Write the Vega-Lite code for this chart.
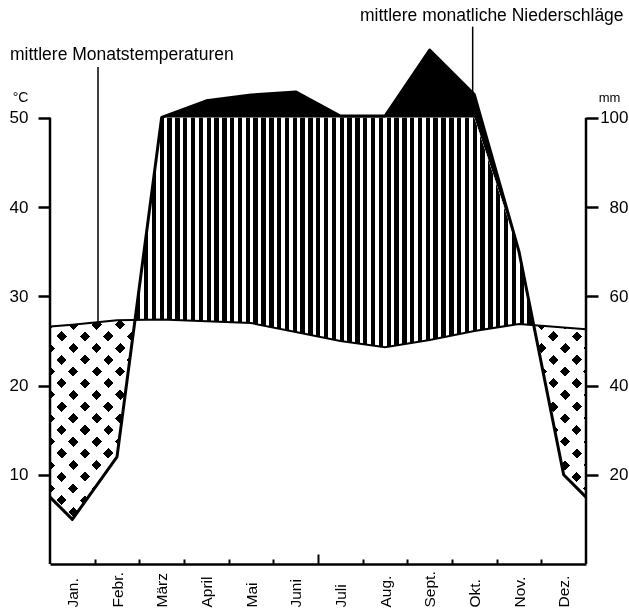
{
"$schema": "https://vega.github.io/schema/vega-lite/v6.json",
"width": 536, "height": 564,
"autosize": {"type": "none"},
"padding": {"left": 50, "top": 0, "right": 43, "bottom": 47},
"background": "white",
"config": {"view": {"stroke": null, "fill": "white"}, "font": "Liberation Sans",
  "axis": {"grid": false, "labelColor": "black", "tickColor": "black", "domainColor": "black", "titleColor": "black", "labelFont": "Liberation Sans", "titleFont": "Liberation Sans"}},
"data": {"values": [
  {"m": 0, "T": 26.6, "P": 15},
  {"m": 0.5, "T": 26.8, "P": 10},
  {"m": 1.5, "T": 27.3, "P": 24},
  {"m": 2.5, "T": 27.4, "P": 101},
  {"m": 3.5, "T": 27.2, "P": 138},
  {"m": 4.5, "T": 27.0, "P": 151},
  {"m": 5.5, "T": 26.0, "P": 158},
  {"m": 6.5, "T": 25.0, "P": 104},
  {"m": 7.5, "T": 24.3, "P": 104},
  {"m": 8.5, "T": 25.1, "P": 252},
  {"m": 9.5, "T": 26.1, "P": 152},
  {"m": 10.5, "T": 26.9, "P": 70},
  {"m": 11.5, "T": 26.5, "P": 20},
  {"m": 12, "T": 26.3, "P": 15}
]},
"resolve": {"scale": {"y": "independent"}, "axis": {"x": "independent", "y": "independent"}},
"layer": [
  {"mark": {"type": "area", "fill": "black"},
   "encoding": {
     "x": {"field": "m", "type": "quantitative", "scale": {"domain": [0, 12], "nice": false, "zero": false},
       "axis": {"orient": "bottom", "values": [1,2,3,4,5,6,7,8,9,10,11], "labels": false, "title": null, "domain": true, "domainWidth": 2.5, "ticks": true, "tickWidth": 2, "tickSize": {"condition": {"test": "datum.value == 6", "value": -10}, "value": -5}, "zindex": 1}},
     "y": {"field": "P", "type": "quantitative", "scale": {"domain": [0, 100, 364], "range": [564, 117.8, 0], "nice": false, "zero": false}, "axis": null}}},
  {"mark": {"type": "area", "fill": "white"},
   "encoding": {
     "x": {"field": "m", "type": "quantitative", "scale": {"domain": [0, 12], "nice": false, "zero": false}, "axis": null},
     "y": {"field": "P", "type": "quantitative", "scale": {"domain": [0, 100], "range": [564, 117.8], "clamp": true, "nice": false}, "axis": null}}},
  {"mark": {"type": "area", "fill": "white", "blend": "difference"},
   "encoding": {
     "x": {"field": "m", "type": "quantitative", "scale": {"domain": [0, 12], "nice": false, "zero": false}, "axis": null},
     "y": {"field": "T", "type": "quantitative", "scale": {"domain": [0, 63.2], "range": [564, 0], "nice": false}, "axis": null}}},
  {"mark": {"type": "area", "fill": "white", "blend": "difference"},
   "encoding": {
     "x": {"field": "m", "type": "quantitative", "scale": {"domain": [0, 12], "nice": false, "zero": false}, "axis": null},
     "y": {"field": "P", "type": "quantitative", "scale": {"domain": [0, 100], "range": [564, 117.8], "clamp": true, "nice": false}, "axis": null}}},
  {"mark": {"type": "area", "blend": "lighten", "fill": {"gradient": "linear", "x1": 0, "y1": 0, "x2": 1, "y2": 0, "stops": [
{"offset":0.1314,"color":"#000"},{"offset":0.1396,"color":"#000"},{"offset":0.1396,"color":"#fff"},{"offset":0.146,"color":"#fff"},
{"offset":0.146,"color":"#000"},{"offset":0.1542,"color":"#000"},{"offset":0.1542,"color":"#fff"},{"offset":0.1606,"color":"#fff"},
{"offset":0.1606,"color":"#000"},{"offset":0.1688,"color":"#000"},{"offset":0.1688,"color":"#fff"},{"offset":0.1752,"color":"#fff"},
{"offset":0.1752,"color":"#000"},{"offset":0.1834,"color":"#000"},{"offset":0.1834,"color":"#fff"},{"offset":0.1898,"color":"#fff"},
{"offset":0.1898,"color":"#000"},{"offset":0.198,"color":"#000"},{"offset":0.198,"color":"#fff"},{"offset":0.2044,"color":"#fff"},
{"offset":0.2044,"color":"#000"},{"offset":0.2126,"color":"#000"},{"offset":0.2126,"color":"#fff"},{"offset":0.219,"color":"#fff"},
{"offset":0.219,"color":"#000"},{"offset":0.2272,"color":"#000"},{"offset":0.2272,"color":"#fff"},{"offset":0.2336,"color":"#fff"},
{"offset":0.2336,"color":"#000"},{"offset":0.2418,"color":"#000"},{"offset":0.2418,"color":"#fff"},{"offset":0.2482,"color":"#fff"},
{"offset":0.2482,"color":"#000"},{"offset":0.2564,"color":"#000"},{"offset":0.2564,"color":"#fff"},{"offset":0.2628,"color":"#fff"},
{"offset":0.2628,"color":"#000"},{"offset":0.271,"color":"#000"},{"offset":0.271,"color":"#fff"},{"offset":0.2774,"color":"#fff"},
{"offset":0.2774,"color":"#000"},{"offset":0.2856,"color":"#000"},{"offset":0.2856,"color":"#fff"},{"offset":0.292,"color":"#fff"},
{"offset":0.292,"color":"#000"},{"offset":0.3002,"color":"#000"},{"offset":0.3002,"color":"#fff"},{"offset":0.3066,"color":"#fff"},
{"offset":0.3066,"color":"#000"},{"offset":0.3148,"color":"#000"},{"offset":0.3148,"color":"#fff"},{"offset":0.3212,"color":"#fff"},
{"offset":0.3212,"color":"#000"},{"offset":0.3294,"color":"#000"},{"offset":0.3294,"color":"#fff"},{"offset":0.3358,"color":"#fff"},
{"offset":0.3358,"color":"#000"},{"offset":0.344,"color":"#000"},{"offset":0.344,"color":"#fff"},{"offset":0.3504,"color":"#fff"},
{"offset":0.3504,"color":"#000"},{"offset":0.3586,"color":"#000"},{"offset":0.3586,"color":"#fff"},{"offset":0.365,"color":"#fff"},
{"offset":0.365,"color":"#000"},{"offset":0.3732,"color":"#000"},{"offset":0.3732,"color":"#fff"},{"offset":0.3796,"color":"#fff"},
{"offset":0.3796,"color":"#000"},{"offset":0.3878,"color":"#000"},{"offset":0.3878,"color":"#fff"},{"offset":0.3942,"color":"#fff"},
{"offset":0.3942,"color":"#000"},{"offset":0.4024,"color":"#000"},{"offset":0.4024,"color":"#fff"},{"offset":0.4088,"color":"#fff"},
{"offset":0.4088,"color":"#000"},{"offset":0.417,"color":"#000"},{"offset":0.417,"color":"#fff"},{"offset":0.4234,"color":"#fff"},
{"offset":0.4234,"color":"#000"},{"offset":0.4316,"color":"#000"},{"offset":0.4316,"color":"#fff"},{"offset":0.438,"color":"#fff"},
{"offset":0.438,"color":"#000"},{"offset":0.4462,"color":"#000"},{"offset":0.4462,"color":"#fff"},{"offset":0.4526,"color":"#fff"},
{"offset":0.4526,"color":"#000"},{"offset":0.4608,"color":"#000"},{"offset":0.4608,"color":"#fff"},{"offset":0.4672,"color":"#fff"},
{"offset":0.4672,"color":"#000"},{"offset":0.4754,"color":"#000"},{"offset":0.4754,"color":"#fff"},{"offset":0.4818,"color":"#fff"},
{"offset":0.4818,"color":"#000"},{"offset":0.49,"color":"#000"},{"offset":0.49,"color":"#fff"},{"offset":0.4964,"color":"#fff"},
{"offset":0.4964,"color":"#000"},{"offset":0.5046,"color":"#000"},{"offset":0.5046,"color":"#fff"},{"offset":0.511,"color":"#fff"},
{"offset":0.511,"color":"#000"},{"offset":0.5192,"color":"#000"},{"offset":0.5192,"color":"#fff"},{"offset":0.5256,"color":"#fff"},
{"offset":0.5256,"color":"#000"},{"offset":0.5338,"color":"#000"},{"offset":0.5338,"color":"#fff"},{"offset":0.5402,"color":"#fff"},
{"offset":0.5402,"color":"#000"},{"offset":0.5484,"color":"#000"},{"offset":0.5484,"color":"#fff"},{"offset":0.5548,"color":"#fff"},
{"offset":0.5548,"color":"#000"},{"offset":0.563,"color":"#000"},{"offset":0.563,"color":"#fff"},{"offset":0.5694,"color":"#fff"},
{"offset":0.5694,"color":"#000"},{"offset":0.5776,"color":"#000"},{"offset":0.5776,"color":"#fff"},{"offset":0.584,"color":"#fff"},
{"offset":0.584,"color":"#000"},{"offset":0.5922,"color":"#000"},{"offset":0.5922,"color":"#fff"},{"offset":0.5986,"color":"#fff"},
{"offset":0.5986,"color":"#000"},{"offset":0.6068,"color":"#000"},{"offset":0.6068,"color":"#fff"},{"offset":0.6132,"color":"#fff"},
{"offset":0.6132,"color":"#000"},{"offset":0.6214,"color":"#000"},{"offset":0.6214,"color":"#fff"},{"offset":0.6278,"color":"#fff"},
{"offset":0.6278,"color":"#000"},{"offset":0.636,"color":"#000"},{"offset":0.636,"color":"#fff"},{"offset":0.6424,"color":"#fff"},
{"offset":0.6424,"color":"#000"},{"offset":0.6506,"color":"#000"},{"offset":0.6506,"color":"#fff"},{"offset":0.657,"color":"#fff"},
{"offset":0.657,"color":"#000"},{"offset":0.6652,"color":"#000"},{"offset":0.6652,"color":"#fff"},{"offset":0.6716,"color":"#fff"},
{"offset":0.6716,"color":"#000"},{"offset":0.6798,"color":"#000"},{"offset":0.6798,"color":"#fff"},{"offset":0.6862,"color":"#fff"},
{"offset":0.6862,"color":"#000"},{"offset":0.6944,"color":"#000"},{"offset":0.6944,"color":"#fff"},{"offset":0.7008,"color":"#fff"},
{"offset":0.7008,"color":"#000"},{"offset":0.709,"color":"#000"},{"offset":0.709,"color":"#fff"},{"offset":0.7154,"color":"#fff"},
{"offset":0.7154,"color":"#000"},{"offset":0.7236,"color":"#000"},{"offset":0.7236,"color":"#fff"},{"offset":0.73,"color":"#fff"},
{"offset":0.73,"color":"#000"},{"offset":0.7382,"color":"#000"},{"offset":0.7382,"color":"#fff"},{"offset":0.7446,"color":"#fff"},
{"offset":0.7446,"color":"#000"},{"offset":0.7528,"color":"#000"},{"offset":0.7528,"color":"#fff"},{"offset":0.7592,"color":"#fff"},
{"offset":0.7592,"color":"#000"},{"offset":0.7674,"color":"#000"},{"offset":0.7674,"color":"#fff"},{"offset":0.7738,"color":"#fff"},
{"offset":0.7738,"color":"#000"},{"offset":0.782,"color":"#000"},{"offset":0.782,"color":"#fff"},{"offset":0.7884,"color":"#fff"},
{"offset":0.7884,"color":"#000"},{"offset":0.7966,"color":"#000"},{"offset":0.7966,"color":"#fff"},{"offset":0.803,"color":"#fff"},
{"offset":0.803,"color":"#000"},{"offset":0.8112,"color":"#000"},{"offset":0.8112,"color":"#fff"},{"offset":0.8176,"color":"#fff"},
{"offset":0.8176,"color":"#000"},{"offset":0.8258,"color":"#000"},{"offset":0.8258,"color":"#fff"},{"offset":0.8322,"color":"#fff"},
{"offset":0.8322,"color":"#000"},{"offset":0.8404,"color":"#000"},{"offset":0.8404,"color":"#fff"},{"offset":0.8468,"color":"#fff"},
{"offset":0.8468,"color":"#000"},{"offset":0.855,"color":"#000"},{"offset":0.855,"color":"#fff"},{"offset":0.8614,"color":"#fff"},
{"offset":0.8614,"color":"#000"},{"offset":0.8696,"color":"#000"},{"offset":0.8696,"color":"#fff"},{"offset":0.876,"color":"#fff"},
{"offset":0.876,"color":"#000"},{"offset":0.8842,"color":"#000"},{"offset":0.8842,"color":"#fff"},{"offset":0.8906,"color":"#fff"},
{"offset":0.8906,"color":"#000"},{"offset":0.8988,"color":"#000"},{"offset":0.8988,"color":"#fff"},{"offset":0.9052,"color":"#fff"},
{"offset":0.9052,"color":"#000"},{"offset":0.9134,"color":"#000"},{"offset":0.9134,"color":"#fff"},{"offset":1,"color":"#fff"}
]}},
   "encoding": {
     "x": {"field": "m", "type": "quantitative", "scale": {"domain": [0, 12], "nice": false, "zero": false}, "axis": null},
     "y": {"field": "P", "type": "quantitative", "scale": {"domain": [0, 100], "range": [564, 117.8], "clamp": true, "nice": false}, "axis": null}}},
  {"mark": {"type": "area", "blend": "lighten", "fill": {"gradient": "linear", "x1": 0, "y1": 1, "x2": 1.2054, "y2": 0.4501, "stops": [
{"offset":0,"color":"#000"},{"offset":0.013,"color":"#000"},{"offset":0.013,"color":"#fff"},{"offset":0.03,"color":"#fff"},
{"offset":0.03,"color":"#000"},{"offset":0.043,"color":"#000"},{"offset":0.043,"color":"#fff"},{"offset":0.06,"color":"#fff"},
{"offset":0.06,"color":"#000"},{"offset":0.073,"color":"#000"},{"offset":0.073,"color":"#fff"},{"offset":0.09,"color":"#fff"},
{"offset":0.09,"color":"#000"},{"offset":0.103,"color":"#000"},{"offset":0.103,"color":"#fff"},{"offset":0.12,"color":"#fff"},
{"offset":0.12,"color":"#000"},{"offset":0.133,"color":"#000"},{"offset":0.133,"color":"#fff"},{"offset":0.15,"color":"#fff"},
{"offset":0.15,"color":"#000"},{"offset":0.163,"color":"#000"},{"offset":0.163,"color":"#fff"},{"offset":0.18,"color":"#fff"},
{"offset":0.18,"color":"#000"},{"offset":0.193,"color":"#000"},{"offset":0.193,"color":"#fff"},{"offset":0.21,"color":"#fff"},
{"offset":0.21,"color":"#000"},{"offset":0.223,"color":"#000"},{"offset":0.223,"color":"#fff"},{"offset":0.24,"color":"#fff"},
{"offset":0.24,"color":"#000"},{"offset":0.253,"color":"#000"},{"offset":0.253,"color":"#fff"},{"offset":0.27,"color":"#fff"},
{"offset":0.27,"color":"#000"},{"offset":0.283,"color":"#000"},{"offset":0.283,"color":"#fff"},{"offset":0.3,"color":"#fff"},
{"offset":0.3,"color":"#000"},{"offset":0.313,"color":"#000"},{"offset":0.313,"color":"#fff"},{"offset":0.33,"color":"#fff"},
{"offset":0.33,"color":"#000"},{"offset":0.343,"color":"#000"},{"offset":0.343,"color":"#fff"},{"offset":0.36,"color":"#fff"},
{"offset":0.36,"color":"#000"},{"offset":0.373,"color":"#000"},{"offset":0.373,"color":"#fff"},{"offset":0.39,"color":"#fff"},
{"offset":0.39,"color":"#000"},{"offset":0.403,"color":"#000"},{"offset":0.403,"color":"#fff"},{"offset":0.42,"color":"#fff"},
{"offset":0.42,"color":"#000"},{"offset":0.433,"color":"#000"},{"offset":0.433,"color":"#fff"},{"offset":0.45,"color":"#fff"},
{"offset":0.45,"color":"#000"},{"offset":0.463,"color":"#000"},{"offset":0.463,"color":"#fff"},{"offset":0.48,"color":"#fff"},
{"offset":0.48,"color":"#000"},{"offset":0.493,"color":"#000"},{"offset":0.493,"color":"#fff"},{"offset":0.51,"color":"#fff"},
{"offset":0.51,"color":"#000"},{"offset":0.523,"color":"#000"},{"offset":0.523,"color":"#fff"},{"offset":0.54,"color":"#fff"},
{"offset":0.54,"color":"#000"},{"offset":0.553,"color":"#000"},{"offset":0.553,"color":"#fff"},{"offset":0.57,"color":"#fff"},
{"offset":0.57,"color":"#000"},{"offset":0.583,"color":"#000"},{"offset":0.583,"color":"#fff"},{"offset":0.6,"color":"#fff"},
{"offset":0.6,"color":"#000"},{"offset":0.613,"color":"#000"},{"offset":0.613,"color":"#fff"},{"offset":0.63,"color":"#fff"},
{"offset":0.63,"color":"#000"},{"offset":0.643,"color":"#000"},{"offset":0.643,"color":"#fff"},{"offset":0.66,"color":"#fff"},
{"offset":0.66,"color":"#000"},{"offset":0.673,"color":"#000"},{"offset":0.673,"color":"#fff"},{"offset":0.69,"color":"#fff"},
{"offset":0.69,"color":"#000"},{"offset":0.703,"color":"#000"},{"offset":0.703,"color":"#fff"},{"offset":0.72,"color":"#fff"},
{"offset":0.72,"color":"#000"},{"offset":0.733,"color":"#000"},{"offset":0.733,"color":"#fff"},{"offset":0.75,"color":"#fff"},
{"offset":0.75,"color":"#000"},{"offset":0.763,"color":"#000"},{"offset":0.763,"color":"#fff"},{"offset":0.78,"color":"#fff"},
{"offset":0.78,"color":"#000"},{"offset":0.793,"color":"#000"},{"offset":0.793,"color":"#fff"},{"offset":0.81,"color":"#fff"},
{"offset":0.81,"color":"#000"},{"offset":0.823,"color":"#000"},{"offset":0.823,"color":"#fff"},{"offset":0.84,"color":"#fff"},
{"offset":0.84,"color":"#000"},{"offset":0.853,"color":"#000"},{"offset":0.853,"color":"#fff"},{"offset":0.87,"color":"#fff"},
{"offset":0.87,"color":"#000"},{"offset":0.883,"color":"#000"},{"offset":0.883,"color":"#fff"},{"offset":0.9,"color":"#fff"},
{"offset":0.9,"color":"#000"},{"offset":0.913,"color":"#000"},{"offset":0.913,"color":"#fff"},{"offset":0.93,"color":"#fff"},
{"offset":0.93,"color":"#000"},{"offset":0.943,"color":"#000"},{"offset":0.943,"color":"#fff"},{"offset":0.96,"color":"#fff"},
{"offset":0.96,"color":"#000"},{"offset":0.973,"color":"#000"},{"offset":0.973,"color":"#fff"},{"offset":0.99,"color":"#fff"},
{"offset":0.99,"color":"#000"},{"offset":1,"color":"#000"}
]}},
   "encoding": {
     "x": {"field": "m", "type": "quantitative", "scale": {"domain": [0, 12], "nice": false, "zero": false}, "axis": null},
     "y": {"field": "T", "type": "quantitative", "scale": {"domain": [0, 63.2], "range": [564, 0], "nice": false}, "axis": null}}},
  {"mark": {"type": "area", "blend": "lighten", "fill": {"gradient": "linear", "x1": 0, "y1": 0, "x2": 1.2054, "y2": 0.5499, "stops": [
{"offset":0,"color":"#000"},{"offset":0.013,"color":"#000"},{"offset":0.013,"color":"#fff"},{"offset":0.03,"color":"#fff"},
{"offset":0.03,"color":"#000"},{"offset":0.043,"color":"#000"},{"offset":0.043,"color":"#fff"},{"offset":0.06,"color":"#fff"},
{"offset":0.06,"color":"#000"},{"offset":0.073,"color":"#000"},{"offset":0.073,"color":"#fff"},{"offset":0.09,"color":"#fff"},
{"offset":0.09,"color":"#000"},{"offset":0.103,"color":"#000"},{"offset":0.103,"color":"#fff"},{"offset":0.12,"color":"#fff"},
{"offset":0.12,"color":"#000"},{"offset":0.133,"color":"#000"},{"offset":0.133,"color":"#fff"},{"offset":0.15,"color":"#fff"},
{"offset":0.15,"color":"#000"},{"offset":0.163,"color":"#000"},{"offset":0.163,"color":"#fff"},{"offset":0.18,"color":"#fff"},
{"offset":0.18,"color":"#000"},{"offset":0.193,"color":"#000"},{"offset":0.193,"color":"#fff"},{"offset":0.21,"color":"#fff"},
{"offset":0.21,"color":"#000"},{"offset":0.223,"color":"#000"},{"offset":0.223,"color":"#fff"},{"offset":0.24,"color":"#fff"},
{"offset":0.24,"color":"#000"},{"offset":0.253,"color":"#000"},{"offset":0.253,"color":"#fff"},{"offset":0.27,"color":"#fff"},
{"offset":0.27,"color":"#000"},{"offset":0.283,"color":"#000"},{"offset":0.283,"color":"#fff"},{"offset":0.3,"color":"#fff"},
{"offset":0.3,"color":"#000"},{"offset":0.313,"color":"#000"},{"offset":0.313,"color":"#fff"},{"offset":0.33,"color":"#fff"},
{"offset":0.33,"color":"#000"},{"offset":0.343,"color":"#000"},{"offset":0.343,"color":"#fff"},{"offset":0.36,"color":"#fff"},
{"offset":0.36,"color":"#000"},{"offset":0.373,"color":"#000"},{"offset":0.373,"color":"#fff"},{"offset":0.39,"color":"#fff"},
{"offset":0.39,"color":"#000"},{"offset":0.403,"color":"#000"},{"offset":0.403,"color":"#fff"},{"offset":0.42,"color":"#fff"},
{"offset":0.42,"color":"#000"},{"offset":0.433,"color":"#000"},{"offset":0.433,"color":"#fff"},{"offset":0.45,"color":"#fff"},
{"offset":0.45,"color":"#000"},{"offset":0.463,"color":"#000"},{"offset":0.463,"color":"#fff"},{"offset":0.48,"color":"#fff"},
{"offset":0.48,"color":"#000"},{"offset":0.493,"color":"#000"},{"offset":0.493,"color":"#fff"},{"offset":0.51,"color":"#fff"},
{"offset":0.51,"color":"#000"},{"offset":0.523,"color":"#000"},{"offset":0.523,"color":"#fff"},{"offset":0.54,"color":"#fff"},
{"offset":0.54,"color":"#000"},{"offset":0.553,"color":"#000"},{"offset":0.553,"color":"#fff"},{"offset":0.57,"color":"#fff"},
{"offset":0.57,"color":"#000"},{"offset":0.583,"color":"#000"},{"offset":0.583,"color":"#fff"},{"offset":0.6,"color":"#fff"},
{"offset":0.6,"color":"#000"},{"offset":0.613,"color":"#000"},{"offset":0.613,"color":"#fff"},{"offset":0.63,"color":"#fff"},
{"offset":0.63,"color":"#000"},{"offset":0.643,"color":"#000"},{"offset":0.643,"color":"#fff"},{"offset":0.66,"color":"#fff"},
{"offset":0.66,"color":"#000"},{"offset":0.673,"color":"#000"},{"offset":0.673,"color":"#fff"},{"offset":0.69,"color":"#fff"},
{"offset":0.69,"color":"#000"},{"offset":0.703,"color":"#000"},{"offset":0.703,"color":"#fff"},{"offset":0.72,"color":"#fff"},
{"offset":0.72,"color":"#000"},{"offset":0.733,"color":"#000"},{"offset":0.733,"color":"#fff"},{"offset":0.75,"color":"#fff"},
{"offset":0.75,"color":"#000"},{"offset":0.763,"color":"#000"},{"offset":0.763,"color":"#fff"},{"offset":0.78,"color":"#fff"},
{"offset":0.78,"color":"#000"},{"offset":0.793,"color":"#000"},{"offset":0.793,"color":"#fff"},{"offset":0.81,"color":"#fff"},
{"offset":0.81,"color":"#000"},{"offset":0.823,"color":"#000"},{"offset":0.823,"color":"#fff"},{"offset":0.84,"color":"#fff"},
{"offset":0.84,"color":"#000"},{"offset":0.853,"color":"#000"},{"offset":0.853,"color":"#fff"},{"offset":0.87,"color":"#fff"},
{"offset":0.87,"color":"#000"},{"offset":0.883,"color":"#000"},{"offset":0.883,"color":"#fff"},{"offset":0.9,"color":"#fff"},
{"offset":0.9,"color":"#000"},{"offset":0.913,"color":"#000"},{"offset":0.913,"color":"#fff"},{"offset":0.93,"color":"#fff"},
{"offset":0.93,"color":"#000"},{"offset":0.943,"color":"#000"},{"offset":0.943,"color":"#fff"},{"offset":0.96,"color":"#fff"},
{"offset":0.96,"color":"#000"},{"offset":0.973,"color":"#000"},{"offset":0.973,"color":"#fff"},{"offset":0.99,"color":"#fff"},
{"offset":0.99,"color":"#000"},{"offset":1,"color":"#000"}
]}},
   "encoding": {
     "x": {"field": "m", "type": "quantitative", "scale": {"domain": [0, 12], "nice": false, "zero": false}, "axis": null},
     "y": {"field": "T", "type": "quantitative", "scale": {"domain": [0, 63.2], "range": [564, 0], "nice": false}, "axis": null}}},
  {"mark": {"type": "line", "color": "black", "strokeWidth": 2},
   "encoding": {
     "x": {"field": "m", "type": "quantitative", "scale": {"domain": [0, 12], "nice": false, "zero": false},
       "axis": {"orient": "bottom", "values": [0.5,1.5,2.5,3.5,4.5,5.5,6.5,7.5,8.5,9.5,10.5,11.5], "domain": false, "ticks": false, "title": null,
         "labelExpr": "['Jan.','Febr.','März','April','Mai','Juni','Juli','Aug.','Sept.','Okt.','Nov.','Dez.'][floor(datum.value)]",
         "labelAngle": -90, "labelAlign": "left", "labelBaseline": "middle", "labelPadding": 43, "labelFontSize": 15.5, "labelOverlap": false, "labelFlush": false, "labelBound": false}},
     "y": {"field": "T", "type": "quantitative", "scale": {"domain": [0, 63.2], "range": [564, 0], "nice": false}, "axis": null}}},
  {"mark": {"type": "line", "color": "black", "strokeWidth": 3, "strokeJoin": "round"},
   "encoding": {
     "x": {"field": "m", "type": "quantitative", "scale": {"domain": [0, 12], "nice": false, "zero": false}, "axis": null},
     "y": {"field": "P", "type": "quantitative", "scale": {"domain": [0, 100, 364], "range": [564, 117.8, 0], "nice": false, "zero": false}, "axis": null}}},
  {"data": {"values": [{}]},
   "mark": {"type": "rule", "color": "black", "strokeWidth": 2.5},
   "encoding": {
     "x": {"datum": 0, "type": "quantitative", "scale": {"domain": [0, 12], "nice": false, "zero": false}, "axis": null},
     "y": {"datum": 0, "type": "quantitative", "scale": {"domain": [0, 63.2], "range": [564, 0], "nice": false},
       "axis": {"orient": "left", "values": [10,20,30,40,50], "domain": false, "ticks": true, "tickSize": 12, "tickWidth": 2.5, "labelFontSize": 17, "labelPadding": 10,
         "title": "°C", "titleAngle": 0, "titleX": -30, "titleY": 97, "titleAlign": "center", "titleBaseline": "middle", "titleFontSize": 14, "titleFontWeight": "normal", "zindex": 1}},
     "y2": {"datum": 50}}},
  {"data": {"values": [{}]},
   "mark": {"type": "rule", "color": "black", "strokeWidth": 2.5},
   "encoding": {
     "x": {"datum": 12, "type": "quantitative", "scale": {"domain": [0, 12], "nice": false, "zero": false}, "axis": null},
     "y": {"datum": 0, "type": "quantitative", "scale": {"domain": [0, 100, 364], "range": [564, 117.8, 0], "nice": false, "zero": false},
       "axis": {"orient": "right", "values": [20,40,60,80,100], "domain": false, "ticks": true, "tickSize": 12, "tickWidth": 2.5, "labelFontSize": 17, "labelPadding": 30, "labelAlign": "right",
         "title": "mm", "titleAngle": 0, "titleX": 23, "titleY": 97, "titleAlign": "center", "titleBaseline": "middle", "titleFontSize": 13, "titleFontWeight": "normal", "zindex": 1}},
     "y2": {"datum": 100}}},
  {"data": {"values": [{}]},
   "mark": {"type": "rule", "color": "black", "strokeWidth": 1.5},
   "encoding": {
     "x": {"datum": 1.0746, "type": "quantitative", "scale": {"domain": [0, 12], "nice": false, "zero": false}, "axis": null},
     "y": {"datum": 27.1, "type": "quantitative", "scale": {"domain": [0, 63.2], "range": [564, 0], "nice": false}, "axis": null},
     "y2": {"datum": 55.69}}},
  {"data": {"values": [{}]},
   "mark": {"type": "rule", "color": "black", "strokeWidth": 1.5},
   "encoding": {
     "x": {"datum": 9.463, "type": "quantitative", "scale": {"domain": [0, 12], "nice": false, "zero": false}, "axis": null},
     "y": {"datum": 52.55, "type": "quantitative", "scale": {"domain": [0, 63.2], "range": [564, 0], "nice": false}, "axis": null},
     "y2": {"datum": 60.21}}},
  {"data": {"values": [{}]},
   "mark": {"type": "text", "align": "left", "baseline": "alphabetic", "fontSize": 17.5, "color": "black"},
   "encoding": {
     "x": {"datum": -0.8955, "type": "quantitative", "scale": {"domain": [0, 12], "nice": false, "zero": false}, "axis": null},
     "y": {"datum": 56.48, "type": "quantitative", "scale": {"domain": [0, 63.2], "range": [564, 0], "nice": false}, "axis": null},
     "text": {"value": "mittlere Monatstemperaturen"}}},
  {"data": {"values": [{}]},
   "mark": {"type": "text", "align": "left", "baseline": "alphabetic", "fontSize": 17.5, "color": "black"},
   "encoding": {
     "x": {"datum": 6.94, "type": "quantitative", "scale": {"domain": [0, 12], "nice": false, "zero": false}, "axis": null},
     "y": {"datum": 60.85, "type": "quantitative", "scale": {"domain": [0, 63.2], "range": [564, 0], "nice": false}, "axis": null},
     "text": {"value": "mittlere monatliche Niederschläge"}}}
]
}
